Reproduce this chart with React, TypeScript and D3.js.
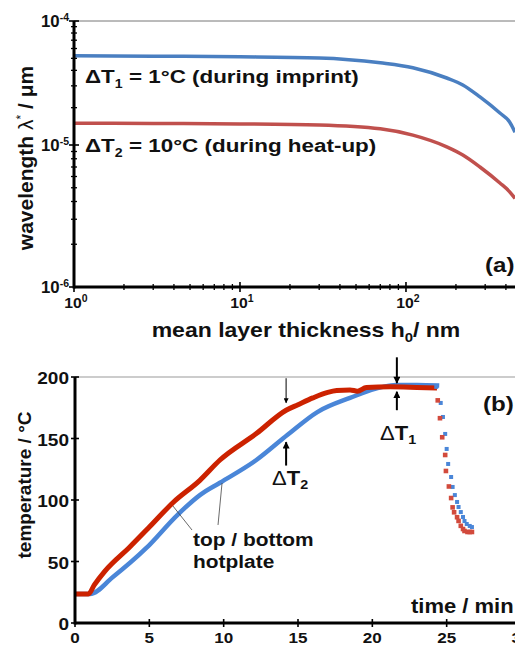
import React from 'react';
import * as d3 from 'd3';

const W = 515;
const H = 647;
const FONT = 'Liberation Sans, Arial, Helvetica, sans-serif';

// panel (a): wavelength vs mean layer thickness
const thickness = [1, 3, 10, 30, 70, 110, 176, 220, 279, 368, 420, 454];
const lambdaDT1 = [5.25e-5, 5.2e-5, 5.15e-5, 5.04e-5, 4.6e-5, 4.2e-5, 3.47e-5, 3.05e-5, 2.44e-5, 1.81e-5, 1.54e-5, 1.27e-5];
const lambdaDT2 = [1.5e-5, 1.49e-5, 1.48e-5, 1.45e-5, 1.35e-5, 1.2e-5, 9.7e-6, 8.5e-6, 7.0e-6, 5.4e-6, 4.7e-6, 4.2e-6];
const decadesX = [1, 10, 100];
const decadesY = [1e-6, 1e-5, 1e-4];
const expX = ['0', '1', '2'];
const expY = ['-6', '-5', '-4'];

// panel (b): temperature vs time
const topTime = [0, 0.9, 1.3, 2.0, 3.7, 5.0, 6.6, 8.4, 9.75, 12.2, 14.2, 15.0, 16.0, 17.0, 17.6, 18.5, 19.0, 19.6, 21.2, 23.0, 24.35];
const topTemp = [23.5, 23.5, 31, 42, 62, 78, 98, 116, 132.5, 154, 173, 177.5, 183, 187.5, 189, 189.5, 188.5, 191.5, 192, 191.5, 191];
const bottomTime = [0, 1.0, 2.55, 4.8, 6.9, 8.4, 9.75, 12.2, 14.3, 16.3, 18.5, 20.7, 21.6, 23.0, 24.5];
const bottomTemp = [23.5, 23.5, 37.4, 61, 88, 104, 114, 132.5, 153, 171.5, 183, 192, 193.5, 193.5, 193];
const coolTopTime = [24.4, 24.55, 24.7, 24.9, 24.95, 25.15, 25.3, 25.4, 25.5, 25.7, 25.8, 25.95, 26.1, 26.2, 26.4, 26.55, 26.7];
const coolTopTemp = [181, 166.5, 151, 136.6, 123.6, 111, 101.6, 94, 90, 86, 83, 79, 76.4, 74.8, 74, 74, 74];
const coolBottomTime = [24.3, 24.6, 24.75, 24.9, 25.0, 25.1, 25.3, 25.4, 25.55, 25.7, 25.8, 25.95, 26.1, 26.2, 26.35, 26.55, 26.7];
const coolBottomTemp = [192, 178.9, 167.5, 153.7, 141.5, 129.3, 118.7, 110.6, 104, 98.4, 94.3, 90.2, 86.2, 82.9, 80.5, 78.9, 78];
const timeTicks = [0, 5, 10, 15, 20, 25, 30];
const tempTicks = [0, 50, 100, 150, 200];

const BLUE_A = '#4a7fc1';
const RED_A = '#c0504d';
const BLUE_B = '#4a86d8';
const RED_B = '#cc2200';

// stretched text, the original figure is a bit wider than its glyphs
function Txt(props: any) {
  const { x, y, size, anchor = 'start', sx = 1.15, weight = 'bold', children } = props;
  return (
    <text
      transform={`translate(${x},${y}) scale(${sx},1)`}
      fontSize={size}
      fontWeight={weight}
      fontFamily={FONT}
      textAnchor={anchor}
      fill="#111"
    >
      {children}
    </text>
  );
}

export default function App() {
  // ---- panel (a) scales
  const xA = d3.scaleLog().domain([1, 453.7]).range([74, 515]);
  const yA = d3.scaleLog().domain([1e-6, 1e-5, 1e-4]).range([287, 145, 21]);
  const lineA = d3.line<number>()
    .x((d, i) => xA(thickness[i]))
    .y((d) => yA(d))
    .curve(d3.curveMonotoneX);

  const minorX: number[] = [];
  decadesX.forEach((d) => { for (let k = 2; k <= 9; k++) if (d * k < 453.7) minorX.push(d * k); });
  const minorY: number[] = [];
  decadesY.slice(0, 2).forEach((d) => { for (let k = 2; k <= 9; k++) minorY.push(d * k); });

  // ---- panel (b) scales
  const xB = d3.scaleLinear().domain([0, 30]).range([75, 521]);
  const yB = d3.scaleLinear().domain([0, 200]).range([623, 377]);
  const lineB = (ts: number[], vs: number[]) =>
    d3.line<number>().x((d, i) => xB(ts[i])).y((d) => yB(d)).curve(d3.curveMonotoneX)(vs) || '';

  return (
    <svg width={W} height={H} style={{ position: 'absolute', left: 0, top: 0, display: 'block' }}>
      <defs>
        <marker id="ah" viewBox="0 0 10 10" refX="9" refY="5" markerUnits="userSpaceOnUse"
          markerWidth="8" markerHeight="7" orient="auto">
          <path d="M0,0 L10,5 L0,10 z" fill="#000" />
        </marker>
        <marker id="ahs" viewBox="0 0 10 10" refX="9" refY="5" markerUnits="userSpaceOnUse"
          markerWidth="6" markerHeight="5" orient="auto">
          <path d="M0,0 L10,5 L0,10 z" fill="#000" />
        </marker>
      </defs>
      <rect width={W} height={H} fill="#fff" />

      {/* ================= panel (a) ================= */}
      <line x1={xA(1)} x2={W} y1={yA(1e-4)} y2={yA(1e-4)} stroke="#777" strokeWidth={1} />
      <path d={lineA(lambdaDT1) || ''} fill="none" stroke={BLUE_A} strokeWidth={3.5} />
      <path d={lineA(lambdaDT2) || ''} fill="none" stroke={RED_A} strokeWidth={3.5} />

      {/* axes */}
      <line x1={xA(1)} x2={W} y1={yA(1e-6)} y2={yA(1e-6)} stroke="#000" strokeWidth={3} />
      <line x1={xA(1)} x2={xA(1)} y1={yA(1e-4)} y2={yA(1e-6) + 1.5} stroke="#000" strokeWidth={3} />
      {minorX.map((v) => (
        <line key={'mx' + v} x1={xA(v)} x2={xA(v)} y1={yA(1e-6) - 3} y2={yA(1e-6) + 3} stroke="#000" strokeWidth={1.3} />
      ))}
      {decadesX.map((v) => (
        <line key={'Mx' + v} x1={xA(v)} x2={xA(v)} y1={yA(1e-6) - 5} y2={yA(1e-6) + 5} stroke="#000" strokeWidth={1.6} />
      ))}
      {minorY.map((v) => (
        <line key={'my' + v} x1={xA(1) - 3} x2={xA(1) + 3} y1={yA(v)} y2={yA(v)} stroke="#000" strokeWidth={1.3} />
      ))}
      {decadesY.map((v) => (
        <line key={'My' + v} x1={xA(1) - 5} x2={xA(1) + 5} y1={yA(v)} y2={yA(v)} stroke="#000" strokeWidth={1.6} />
      ))}
      {decadesX.map((v, i) => (
        <Txt key={'lx' + v} x={xA(v) + 2} y={308} size={15} anchor="middle" sx={1.05}>
          10<tspan fontSize={10} dy={-6}>{expX[i]}</tspan>
        </Txt>
      ))}
      {decadesY.map((v, i) => (
        <Txt key={'ly' + v} x={69} y={yA(v) + 6} size={16} anchor="end" sx={1.05}>
          10<tspan fontSize={10} dy={-6}>{expY[i]}</tspan>
        </Txt>
      ))}

      <text transform="translate(33,158) rotate(-90)" fontSize={21} fontWeight="bold" fontFamily={FONT}
        textAnchor="middle" fill="#111">
        wavelength <tspan fontWeight="normal">λ</tspan><tspan fontWeight="normal" fontSize={12} dy={-8}>*</tspan>
        <tspan dy={8}> / μm</tspan>
      </text>
      <Txt x={306} y={337} size={20} anchor="middle" sx={1.15}>
        mean layer thickness h<tspan fontSize={13} dy={5}>0</tspan><tspan dy={-5}>/ nm</tspan>
      </Txt>

      <Txt x={85} y={83} size={19} sx={1.18}>
        ΔT<tspan fontSize={12} dy={5}>1</tspan><tspan dy={-5}> = 1°C (during imprint)</tspan>
      </Txt>
      <Txt x={85} y={152} size={19} sx={1.18}>
        ΔT<tspan fontSize={12} dy={5}>2</tspan><tspan dy={-5}> = 10°C (during heat-up)</tspan>
      </Txt>
      <Txt x={485} y={272} size={21} sx={1.15}>(a)</Txt>

      {/* ================= panel (b) ================= */}
      <line x1={xB(0)} x2={W} y1={yB(200)} y2={yB(200)} stroke="#999" strokeWidth={1} />

      <path d={lineB(bottomTime, bottomTemp)} fill="none" stroke={BLUE_B} strokeWidth={4.5} />
      <path d={lineB(topTime, topTemp)} fill="none" stroke={RED_B} strokeWidth={5} />
      {coolBottomTime.map((t, i) => (
        <rect key={'cb' + i} x={xB(t) - 2} y={yB(coolBottomTemp[i]) - 2} width={4} height={4} fill={BLUE_B} />
      ))}
      {coolTopTime.map((t, i) => (
        <rect key={'ct' + i} x={xB(t) - 2.3} y={yB(coolTopTemp[i]) - 2.3} width={4.6} height={4.6} fill="#d24a3c" />
      ))}

      {/* axes */}
      <line x1={xB(0)} x2={W} y1={yB(0)} y2={yB(0)} stroke="#000" strokeWidth={3} />
      <line x1={xB(0)} x2={xB(0)} y1={yB(200)} y2={yB(0) + 1.5} stroke="#000" strokeWidth={3} />
      {timeTicks.map((v) => (
        <line key={'tx' + v} x1={xB(v)} x2={xB(v)} y1={yB(0) - 4} y2={yB(0) + 4} stroke="#000" strokeWidth={1.6} />
      ))}
      {tempTicks.map((v) => (
        <line key={'ty' + v} x1={xB(0) - 4} x2={xB(0) + 4} y1={yB(v)} y2={yB(v)} stroke="#000" strokeWidth={1.6} />
      ))}
      {timeTicks.map((v) => (
        <Txt key={'ltx' + v} x={xB(v)} y={643} size={15.5} anchor="middle" sx={1.1}>{v}</Txt>
      ))}
      {tempTicks.map((v) => (
        <Txt key={'lty' + v} x={69} y={yB(v) + 7} size={17} anchor="end" sx={1.12}>{v}</Txt>
      ))}

      <text transform="translate(31,485) rotate(-90)" fontSize={19} fontWeight="bold" fontFamily={FONT}
        textAnchor="middle" fill="#111">
        temperature / °C
      </text>
      <Txt x={411} y={613} size={20} sx={1.1}>time / min</Txt>
      <Txt x={483} y={411} size={21} sx={1.15}>(b)</Txt>

      {/* ΔT2 arrows */}
      <line x1={xB(14.2)} x2={xB(14.2)} y1={yB(199)} y2={yB(179)} stroke="#000" strokeWidth={1} markerEnd="url(#ahs)" />
      <line x1={xB(14.2)} x2={xB(14.2)} y1={yB(128)} y2={yB(147)} stroke="#000" strokeWidth={2} markerEnd="url(#ah)" />
      <Txt x={272} y={485} size={20} sx={1.1}>
        <tspan fontWeight="normal">Δ</tspan>T<tspan fontSize={13} dy={4}>2</tspan>
      </Txt>

      {/* ΔT1 arrows */}
      <line x1={xB(21.65)} x2={xB(21.65)} y1={yB(216)} y2={yB(195)} stroke="#000" strokeWidth={2} markerEnd="url(#ah)" />
      <line x1={xB(21.65)} x2={xB(21.65)} y1={yB(173)} y2={yB(188)} stroke="#000" strokeWidth={2} markerEnd="url(#ah)" />
      <Txt x={380} y={440} size={20} sx={1.1}>
        <tspan fontWeight="normal">Δ</tspan>T<tspan fontSize={13} dy={4}>1</tspan>
      </Txt>

      {/* hotplate labels */}
      <line x1={xB(7.87)} y1={yB(75.6)} x2={xB(6.59)} y2={yB(95.1)} stroke="#444" strokeWidth={0.8} />
      <line x1={xB(9.62)} y1={yB(79.7)} x2={xB(9.89)} y2={yB(113.8)} stroke="#444" strokeWidth={0.8} />
      <Txt x={193} y={546} size={19} sx={1.1}>top / bottom</Txt>
      <Txt x={193} y={568} size={19} sx={1.1}>hotplate</Txt>
    </svg>
  );
}
